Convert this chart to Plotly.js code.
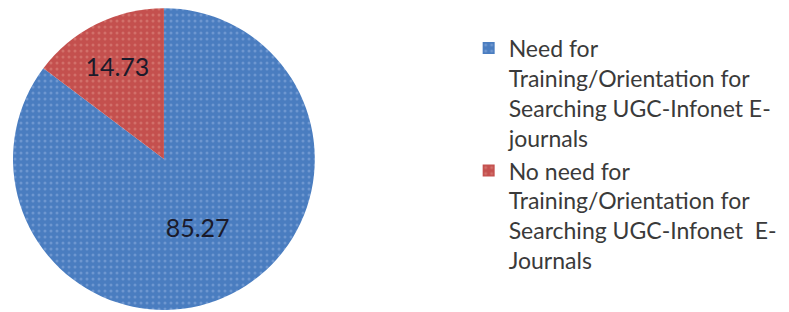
<!DOCTYPE html>
<html>
<head>
<meta charset="utf-8">
<script src="https://cdn.plot.ly/plotly-3.0.1.min.js"></script>
<style>html,body{margin:0;padding:0;background:#fff}#chart{width:789px;height:312px}</style>
</head>
<body>
<div id="chart"></div>
<script>
const labels = [
  "Need for<br>Training/Orientation for<br>Searching UGC-Infonet E-<br>journals",
  "No need for<br>Training/Orientation for<br>Searching UGC-Infonet  E-<br>Journals"
];
const values = [85.27, 14.73];
const colors = ["#4A7DC0", "#C4504E"];
const dotColors = ["#6E97D0", "#D2706A"];

const trace = {
  type: "pie",
  labels: labels,
  values: values,
  sort: false,
  direction: "clockwise",
  rotation: 0,
  textinfo: "value",
  texttemplate: "%{value:.2f}",
  textposition: "inside",
  insidetextorientation: "horizontal",
  textfont: {family: "Lato, 'Open Sans', sans-serif", size: 25, color: "#1a1a2a"},
  marker: {
    colors: colors,
    line: {width: 0},
    pattern: {shape: ".", fgcolor: dotColors, bgcolor: colors, fillmode: "replace", size: 6, solidity: 0.2}
  },
  domain: {x: [0.0165, 0.399], y: [0.0064, 0.974]},
  hoverinfo: "label+value"
};

const layout = {
  width: 789, height: 312,
  margin: {l: 0, r: 0, t: 0, b: 0},
  paper_bgcolor: "#ffffff",
  showlegend: true,
  legend: {
    x: 0.594, y: 0.915, xanchor: "left", yanchor: "top",
    valign: "top",
    font: {family: "Lato, 'Open Sans', sans-serif", size: 23, color: "#3a3a3a"},
    bgcolor: "rgba(0,0,0,0)"
  }
};

Plotly.newPlot("chart", [trace], layout, {displayModeBar: false, staticPlot: true});
</script>
</body>
</html>
